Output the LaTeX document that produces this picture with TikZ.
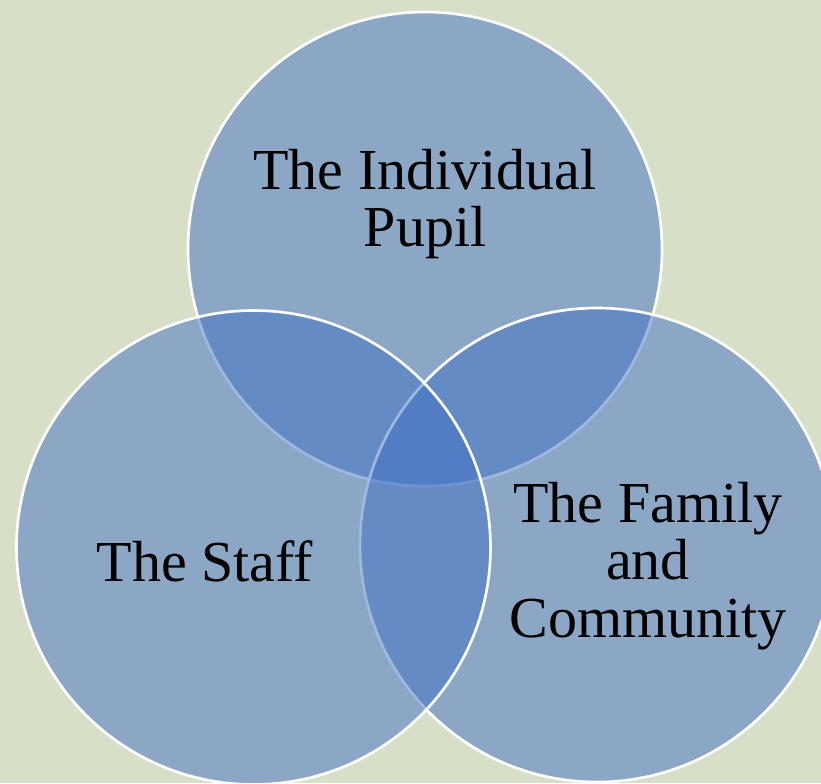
\documentclass[tikz,border=0pt]{standalone}
\usepackage{fontspec}
\setmainfont{Liberation Serif}
\definecolor{sage}{RGB}{215,223,200}
\definecolor{circleblue}{RGB}{65,113,196}

\begin{document}
\begin{tikzpicture}[x=0.75pt,y=-0.75pt,
  ring/.style={draw=white, line width=2pt, fill=circleblue, fill opacity=0.5},
  setlabel/.style={align=center, text=black, font=\fontsize{43.5}{43}\selectfont}]
% Background
\fill[sage] (0,0) rectangle (821,783);
\useasboundingbox (0,0) rectangle (821,783);
\clip (0,0) rectangle (821,783);

% Three overlapping circles (top, right, left)
\path[ring] (425,249) circle (237);
\path[ring] (597,545) circle (237);
\path[ring] (253.5,547.5) circle (237);

% Circle texts
\node[setlabel] (pupil) at (425,204) {The Individual\\Pupil};
\node[setlabel] (staff) at (205,561) {The Staff};
\node[setlabel] (family) at (648,566) {The Family\\and\\Community};

\end{tikzpicture}
\end{document}
